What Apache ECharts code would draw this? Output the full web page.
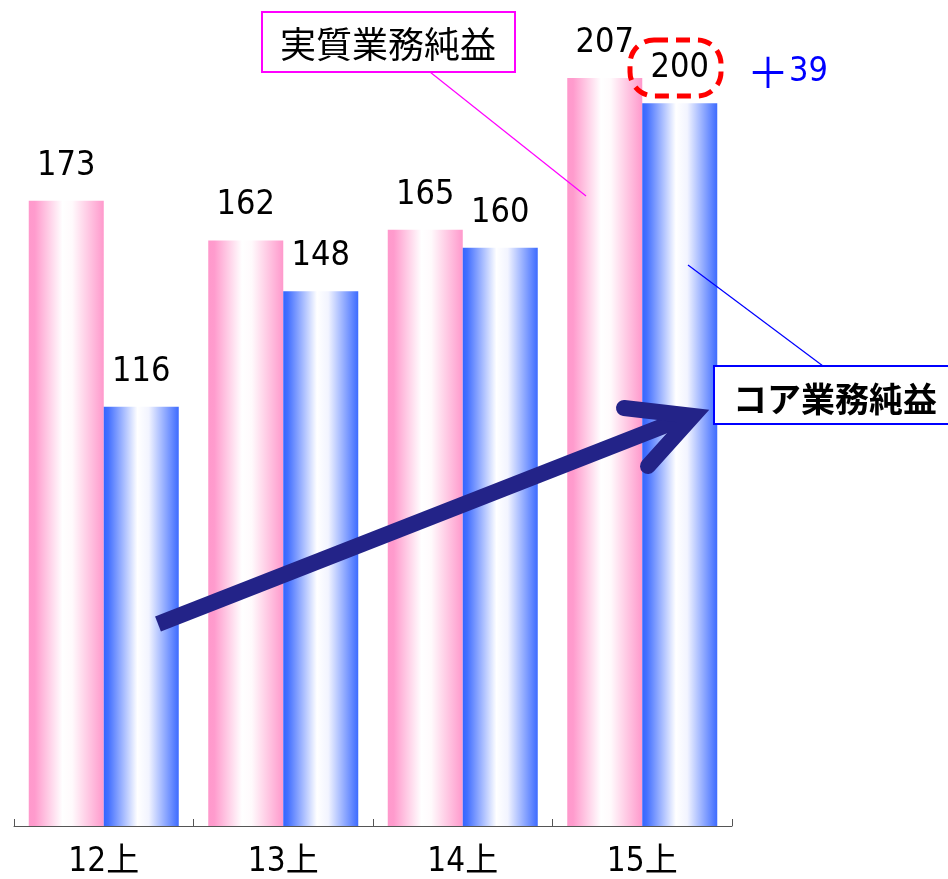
<!DOCTYPE html>
<html>
<head>
<meta charset="utf-8">
<title>業務純益の推移</title>
<script src="https://cdn.jsdelivr.net/npm/echarts@6/dist/echarts.min.js"></script>
<style>
  html, body { margin: 0; padding: 0; background: #ffffff; }
  #chart { width: 948px; height: 879px; }
</style>
</head>
<body>
<div id="chart"></div>
<script>
// 期（上期）
const categories = ['12上', '13上', '14上', '15上'];
// 実質業務純益
const jisshitsu = [173, 162, 165, 207];
// コア業務純益
const core = [116, 148, 160, 200];
// 前年同期比の増加額
const increaseSign = '＋';
const increaseValue = '39';

const numFont = '"Liberation Sans Narrow", "DejaVu Sans Condensed", "Noto Sans CJK JP", sans-serif';
const cjkFont = '"Noto Sans CJK JP", sans-serif';

function hGradient(stops) {
  return new echarts.graphic.LinearGradient(0, 0, 1, 0, stops);
}

const pinkFill = hGradient([
  { offset: 0, color: '#ff99cc' },
  { offset: 0.08, color: '#ff9bcd' },
  { offset: 0.45, color: '#ffffff' },
  { offset: 0.58, color: '#fffafc' },
  { offset: 1, color: '#ff99cc' }
]);
const blueFill = hGradient([
  { offset: 0, color: '#3366ff' },
  { offset: 0.06, color: '#4470ff' },
  { offset: 0.45, color: '#ffffff' },
  { offset: 0.6, color: '#f2f4ff' },
  { offset: 1, color: '#3d6bff' }
]);

const valueLabel = {
  show: true,
  position: 'top',
  distance: 18,
  color: '#000000',
  fontSize: 34,
  fontFamily: numFont
};

const chart = echarts.init(document.getElementById('chart'), null, { renderer: 'canvas' });

chart.setOption({
  animation: false,
  backgroundColor: '#ffffff',
  grid: { left: 14, right: 216, top: 31, bottom: 52, containLabel: false },
  xAxis: {
    type: 'category',
    data: categories,
    boundaryGap: true,
    axisLine: { show: true, lineStyle: { color: '#555555', width: 1 } },
    axisTick: { show: true, inside: true, interval: 0, length: 7, lineStyle: { color: '#555555', width: 1 } },
    axisLabel: {
      margin: 20,
      color: '#000000',
      fontSize: 33,
      fontFamily: numFont
    }
  },
  yAxis: {
    type: 'value',
    min: 0,
    max: 220,
    show: false,
    splitLine: { show: false }
  },
  series: [
    {
      name: '実質業務純益',
      type: 'bar',
      data: jisshitsu,
      barWidth: 75,
      barGap: '0%',
      itemStyle: { color: pinkFill },
      label: valueLabel
    },
    {
      name: 'コア業務純益',
      type: 'bar',
      data: core,
      barWidth: 75,
      barGap: '0%',
      itemStyle: { color: blueFill },
      label: valueLabel
    }
  ],
  graphic: [
    // 実質業務純益 callout
    {
      type: 'line', z: 10,
      shape: { x1: 430, y1: 72, x2: 586, y2: 196 },
      style: { stroke: '#ff00ff', lineWidth: 1.2 }
    },
    {
      type: 'rect', z: 11,
      shape: { x: 262, y: 12, width: 253, height: 60 },
      style: { fill: '#ffffff', stroke: '#ff00ff', lineWidth: 2 }
    },
    {
      type: 'text', z: 12,
      x: 388, y: 44,
      style: {
        text: '実質業務純益',
        fill: '#000000',
        font: '36px ' + cjkFont,
        align: 'center',
        verticalAlign: 'middle'
      }
    },
    // コア業務純益 callout
    {
      type: 'line', z: 10,
      shape: { x1: 688, y1: 265, x2: 823, y2: 366 },
      style: { stroke: '#0000ff', lineWidth: 1.2 }
    },
    {
      type: 'rect', z: 11,
      shape: { x: 714, y: 366, width: 240, height: 58 },
      style: { fill: '#ffffff', stroke: '#0000ff', lineWidth: 2 }
    },
    {
      type: 'text', z: 12,
      x: 835, y: 399,
      style: {
        text: 'コア業務純益',
        fill: '#000000',
        font: 'bold 34px ' + cjkFont,
        align: 'center',
        verticalAlign: 'middle'
      }
    },
    // highlight around the latest core value
    {
      type: 'rect', z: 12,
      shape: { x: 630, y: 40, width: 91, height: 56, r: 24 },
      style: { fill: 'none', stroke: '#ff0000', lineWidth: 5, lineDash: [14, 8] }
    },
    {
      type: 'text', z: 12,
      x: 747, y: 72,
      style: {
        text: '{s|' + increaseSign + '}{v|' + increaseValue + '}',
        rich: {
          s: { fill: '#0000ff', fontSize: 42, fontFamily: cjkFont },
          v: { fill: '#0000ff', fontSize: 34, fontFamily: numFont }
        },
        align: 'left',
        verticalAlign: 'middle'
      }
    },
    // upward trend arrow
    {
      type: 'line', z: 13,
      shape: { x1: 158, y1: 624, x2: 684, y2: 418 },
      style: { stroke: '#232388', lineWidth: 16, lineCap: 'butt' }
    },
    {
      type: 'polyline', z: 13,
      shape: { points: [[624, 408], [693, 416], [648, 466]] },
      style: { stroke: '#232388', lineWidth: 16, lineCap: 'round', lineJoin: 'miter', fill: 'none' }
    }
  ]
});
</script>
</body>
</html>
